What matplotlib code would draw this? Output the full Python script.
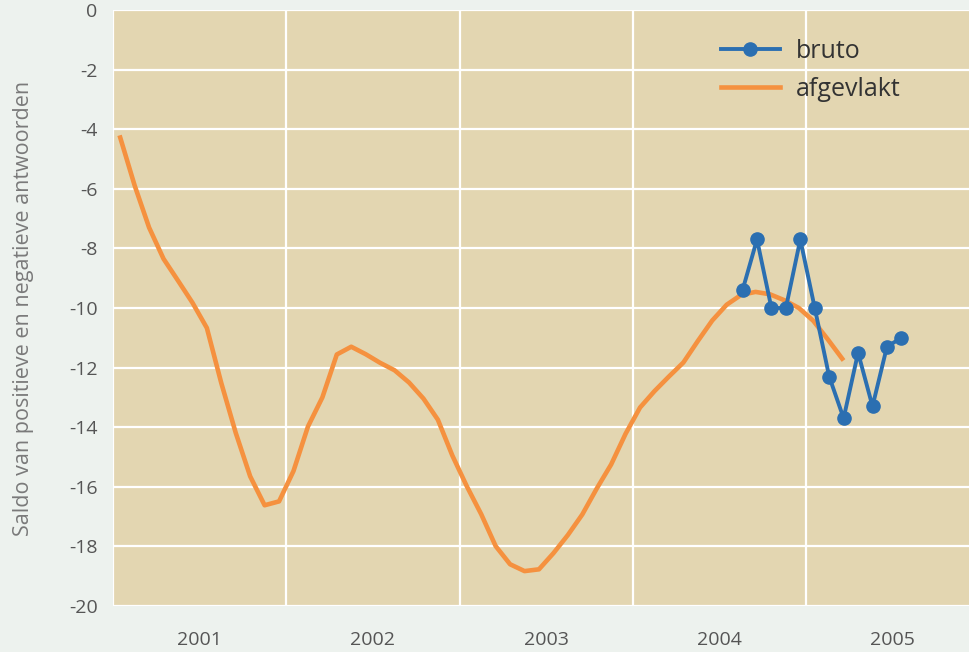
import numpy as np
import matplotlib.pyplot as plt

# maandelijkse waarden, afgevlakt: jan 2001 t/m mrt 2005
afgevlakt = [-4.28, -5.89, -7.30, -8.35, -9.08, -9.82, -10.67, -12.52, -14.19, -15.65,
             -16.62, -16.49, -15.47, -13.98, -13.00, -11.56, -11.30, -11.55, -11.84, -12.09,
             -12.50, -13.04, -13.75, -14.95, -15.98, -16.92, -17.99, -18.60, -18.83, -18.77,
             -18.23, -17.62, -16.93, -16.06, -15.25, -14.22, -13.34, -12.79, -12.30, -11.83,
             -11.11, -10.42, -9.89, -9.56, -9.46, -9.54, -9.74, -10.00, -10.43, -11.05,
             -11.70]
# bruto: aug 2004 t/m jul 2005
bruto = [-9.4, -7.7, -10.0, -10.0, -7.7, -10.0, -12.3, -13.7, -11.5, -13.3, -11.3, -11.0]
jaren = [2001, 2002, 2003, 2004, 2005]

x_afg = 2001 + (np.arange(len(afgevlakt)) + 0.5) / 12
x_bruto = 2004 + (np.arange(7, 7 + len(bruto)) + 0.6) / 12

plt.rcParams['font.family'] = ['Open Sans', 'DejaVu Sans']
plt.rcParams['axes.unicode_minus'] = False

fig = plt.figure(figsize=(9.7, 6.52), dpi=100, facecolor='#edf2ee')
ax = fig.add_axes([0.1165, 0.0706, 0.8835, 0.914])
ax.set_facecolor('#e3d6b1')

ax.plot(x_afg, afgevlakt, color='#f5913f', lw=3.3, label='afgevlakt', zorder=3,
        solid_joinstyle='round')
ax.plot(x_bruto, bruto, color='#2b6fb1', lw=2.8, marker='o', markersize=9.5,
        label='bruto', zorder=4)

ax.set_xlim(2001, 2005.946)
ax.set_ylim(-20, 0)
ax.set_xticks(jaren)
ax.set_xticklabels([])
ax.set_xticks([j + 0.5 for j in jaren], minor=True)
ax.set_xticklabels([str(j) for j in jaren], minor=True)
ax.set_yticks(range(-20, 1, 2))
ax.grid(True, which='major', color='white', lw=1.6)
ax.tick_params(which='both', length=0, labelsize=14, colors='#555555')
ax.tick_params(axis='x', which='minor', pad=18)
ax.tick_params(axis='y', pad=11)
for s in ax.spines.values():
    s.set_visible(False)

ax.set_ylabel('Saldo van positieve en negatieve antwoorden', fontsize=15.5,
              color='#7a7a7a', labelpad=25)

h, l = ax.get_legend_handles_labels()
leg = ax.legend(h[::-1], l[::-1], loc='upper left', bbox_to_anchor=(0.695, 0.972),
                frameon=False, fontsize=18, handlelength=2.35, handletextpad=0.65,
                labelspacing=0.5, borderpad=0)
for t in leg.get_texts():
    t.set_color('#333333')

fig.savefig('out.png', dpi=100, facecolor=fig.get_facecolor())
